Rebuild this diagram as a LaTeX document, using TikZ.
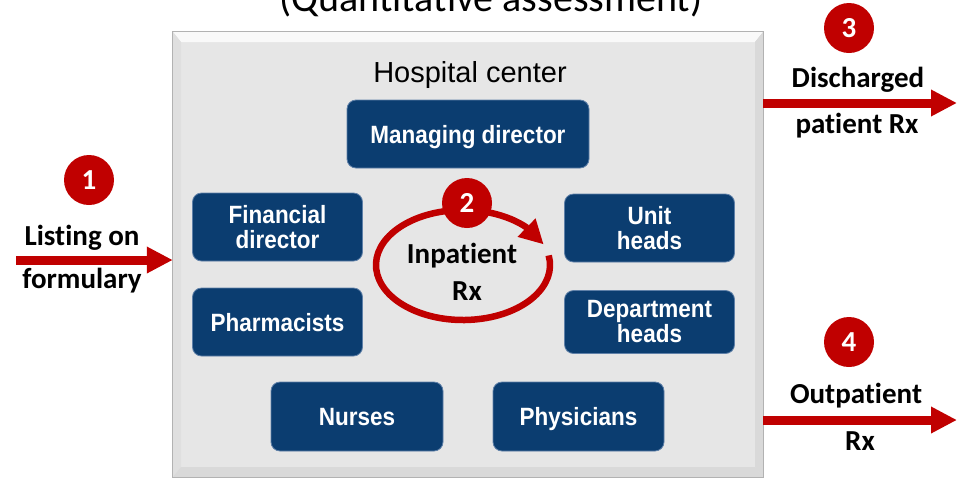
\documentclass[tikz,border=0pt]{standalone}
\usepackage{fontspec}
\setmainfont{Carlito}[Ligatures=NoCommon]
\newfontfamily\arialf{Liberation Sans}
\newfontfamily\narrowf[FakeStretch=0.9]{Liberation Sans}
\usetikzlibrary{arrows.meta,bending}
\definecolor{boxblue}{RGB}{11,61,112}
\definecolor{boxedge}{RGB}{95,128,168}
\definecolor{rxred}{RGB}{192,0,0}
\definecolor{panelgray}{RGB}{230,230,230}
\begin{document}
\begin{tikzpicture}[x=1pt,y=1pt,
  bluebox/.style={rounded corners=9pt, fill=boxblue, draw=boxedge, line width=0.8pt,
    text=white, font=\narrowf\bfseries\fontsize{25}{25}\selectfont, align=center,
    inner sep=0pt, minimum width=170pt, minimum height=68pt},
  onel/.style={text depth=0pt},
  badge/.style={circle, fill=rxred, minimum size=50pt, inner sep=0pt, text=white,
    font=\bfseries\fontsize{29}{29}\selectfont},
  lbl/.style={font=\bfseries\fontsize{29}{29}\selectfont, anchor=base, inner sep=0pt},
  flow/.style={draw=rxred, line width=9pt, -{Triangle[length=26pt,width=25pt]}},
  ring/.style={draw=rxred, line width=6.5pt, -{Triangle[length=24pt,width=24pt]}},
  panel/.style={draw=none, fill=panelgray, minimum width=590pt, minimum height=445pt, inner sep=0pt}
]
\clip (0,0) rectangle (969,-480);
\fill[white] (0,0) rectangle (969,-480);

% title (cut at top)
\node[font=\fontsize{40}{40}\selectfont, anchor=base, inner sep=0pt] (title) at (491,-11) {(Quantitative assessment)};

% panel with bevel
\node[panel] (hc) at (468,-254.5) {};
\fill[gray!5] (173,-32) -- (763,-32) -- (755,-42) -- (181,-42) -- cycle;
\fill[gray!25] (173,-32) -- (181,-42) -- (181,-467) -- (173,-477) -- cycle;
\fill[gray!30] (763,-32) -- (755,-42) -- (755,-467) -- (763,-477) -- cycle;
\fill[gray!30] (173,-477) -- (181,-467) -- (755,-467) -- (763,-477) -- cycle;
\draw[gray!60, line width=0.8pt] (hc.south west) rectangle (hc.north east);

\node[font=\arialf\fontsize{29}{29}\selectfont, anchor=base, inner sep=0pt] (hctitle) at (470,-82) {Hospital center};

% blue boxes
\node[bluebox, onel, minimum width=242pt] (md) at (468,-134) {Managing director};
\node[bluebox] (fd) at (277.5,-227) {Financial\\director};
\node[bluebox, onel] (ph) at (277.5,-322) {Pharmacists};
\node[bluebox] (uh) at (649.5,-228) {Unit\\heads};
\node[bluebox, minimum height=63pt] (dh) at (649.5,-322) {Department\\heads};
\node[bluebox, onel, minimum width=172pt, minimum height=69pt] (nu) at (357,-416.5) {Nurses};
\node[bluebox, onel, minimum width=171pt, minimum height=69pt] (py) at (578.5,-416.5) {Physicians};

% inpatient loop
\coordinate (ic) at (463,-265);
\draw[ring] (ic) ++(10:87pt and 55pt) arc[start angle=10, end angle=-338, x radius=87pt, y radius=55pt];
\node[lbl] (inp) at (462,-263) {Inpatient};
\node[lbl] (inrx) at (467,-300) {Rx};
\node[badge] (b2) at (467,-203) {2};

% flow 1
\coordinate (a1s) at (16,-260);
\draw[flow] (a1s) -- (a1s -| hc.west);
\node[badge] (b1) at (89,-180) {1};
\node[lbl] (l1a) at (82,-245) {Listing on};
\node[lbl] (l1b) at (82,-288) {formulary};

% flow 3
\coordinate (a3e) at (957,-103);
\draw[flow] (a3e -| hc.east) -- (a3e);
\node[badge] (b3) at (849,-28) {3};
\node[lbl] (l3a) at (858,-87) {Discharged};
\node[lbl] (l3b) at (857,-133) {patient Rx};

% flow 4
\coordinate (a4e) at (957,-420);
\draw[flow] (a4e -| hc.east) -- (a4e);
\node[badge] (b4) at (849,-342) {4};
\node[lbl] (l4a) at (856,-403) {Outpatient};
\node[lbl] (l4b) at (860,-450) {Rx};
\end{tikzpicture}
\end{document}
